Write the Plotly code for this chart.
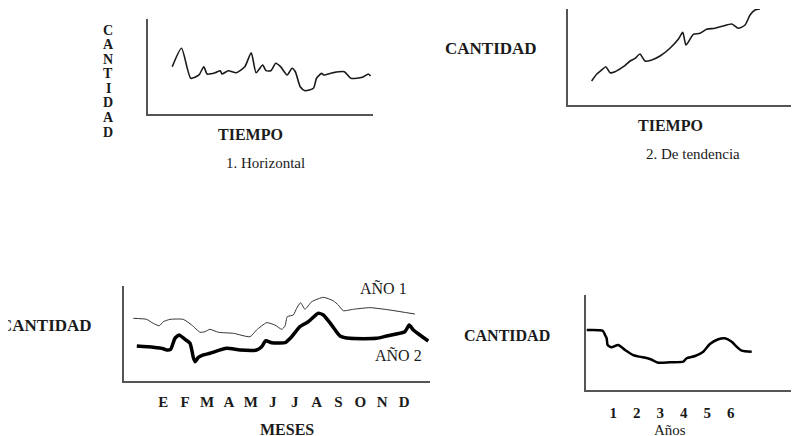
import plotly.graph_objects as go

W, H = 799, 436
OFF = 8  # the page's body margin shifts the figure by 8px right and down

# ---------- Data ----------
# 1. Horizontal
h_tiempo = [11.0, 15.2, 19.4, 23.1, 25.3, 26.8, 30.5, 32.8, 33.5, 36.4, 40.1, 43.9, 46.8, 49.0,
            52.0, 53.5, 55.7, 57.9, 60.1, 63.1, 65.3, 66.8, 69.0, 71.2, 75.0, 76.4, 78.7, 79.7,
            83.9, 89.0, 92.0, 97.2, 99.9, 100.9]
h_cantidad = [49.8, 69.2, 37.6, 41.1, 49.8, 42.1, 43.5, 45.6, 42.1, 45.6, 43.5, 49.8, 64.5, 43.5,
              51.6, 45.6, 45.6, 53.4, 49.8, 41.1, 48.1, 44.5, 28.7, 24.5, 27.1, 37.6, 42.8, 41.1,
              43.5, 44.5, 37.6, 38.6, 42.1, 40.0]

# 2. De tendencia
t_tiempo = [10.5, 12.8, 15.0, 16.8, 18.7, 20.9, 24.6, 27.6, 29.8, 32.0, 34.2, 37.2, 40.9, 45.3,
            49.0, 51.0, 52.4, 54.2, 55.7, 58.7, 61.6, 65.3, 69.0, 72.8, 75.7, 78.7, 80.9, 83.1, 85.3]
t_cantidad = [25.0, 32.3, 36.5, 39.9, 33.6, 34.7, 39.9, 45.8, 48.6, 53.1, 45.8, 46.9, 51.0, 59.1,
              68.4, 75.7, 62.5, 68.4, 73.6, 74.7, 78.9, 79.9, 82.3, 84.4, 79.9, 83.3, 93.8, 99.0, 100.0]

# 3. Estacional (months)
meses_labels = ["E", "F", "M", "A", "M", "J", "J", "A", "S", "O", "N", "D"]
meses_pos = list(range(1, 13))
a1_mes = [-0.37, 0.24, 0.54, 0.82, 1.00, 1.31, 1.91, 2.30, 2.68, 2.90, 3.13, 3.51, 4.20, 4.96,
          5.26, 5.72, 6.10, 6.41, 6.56, 6.66, 6.94, 7.09, 7.27, 7.47, 7.78, 8.31, 8.76, 8.99,
          9.22, 9.68, 10.44, 11.35, 12.49]
a1_cantidad = [66.0, 64.9, 60.7, 58.2, 62.4, 64.9, 64.9, 58.9, 51.3, 51.9, 54.4, 51.3, 50.2, 46.6,
               53.7, 61.4, 58.9, 54.4, 57.9, 67.7, 69.5, 76.5, 82.4, 75.5, 83.5, 88.1, 84.5, 80.0,
               74.0, 75.5, 77.2, 74.7, 70.5]
a2_mes = [-0.21, 0.54, 1.00, 1.16, 1.34, 1.53, 1.72, 1.99, 2.22, 2.37, 2.45, 2.60, 2.83, 3.13,
          3.89, 4.50, 5.26, 5.49, 5.68, 5.95, 6.56, 6.86, 7.24, 7.62, 8.08, 8.31, 8.69, 9.07,
          9.53, 10.74, 11.20, 12.03, 12.23, 12.42, 12.72, 13.10]
a2_cantidad = [36.8, 35.5, 34.0, 32.6, 33.4, 44.9, 48.4, 43.9, 39.7, 24.9, 20.3, 24.9, 27.4, 29.2,
               34.4, 32.6, 32.6, 36.1, 42.4, 40.3, 40.3, 46.6, 57.2, 62.4, 71.3, 69.5, 58.9, 47.4,
               44.9, 44.9, 47.4, 51.9, 58.9, 53.7, 48.4, 42.1]

# 4. Cíclico (years)
anios_labels = ["1", "2", "3", "4", "5", "6"]
anios_pos = [1, 2, 3, 4, 5, 6]
c_anio = [-0.13, 0.55, 0.65, 0.72, 0.76, 0.93, 1.21, 1.50, 1.85, 2.56, 2.91, 3.41, 3.98, 4.12,
          4.48, 4.83, 5.11, 5.47, 5.75, 6.04, 6.25, 6.46, 6.89]
c_cantidad = [63.2, 62.4, 57.9, 54.4, 47.4, 44.9, 47.4, 42.1, 36.8, 32.6, 28.7, 29.2, 29.8, 33.4,
              35.8, 40.3, 48.4, 53.4, 54.4, 50.8, 45.6, 41.4, 40.3]

# ---------- Layout helpers ----------
FONT = "Liberation Serif, Times New Roman, serif"
INK = "#1a1a1a"
AXIS = "#555555"
TXT = "#1a1a1a"


def px_x(p):
    return (p - OFF) / W


def px_y(p):
    return 1 - (p - OFF) / H


fig = go.Figure()

fig.add_trace(go.Scatter(x=h_tiempo, y=h_cantidad, mode="lines", xaxis="x", yaxis="y",
                         line=dict(color=INK, width=1.6, shape="spline", smoothing=0.6),
                         showlegend=False, hoverinfo="skip"))
fig.add_trace(go.Scatter(x=t_tiempo, y=t_cantidad, mode="lines", xaxis="x2", yaxis="y2",
                         line=dict(color=INK, width=1.6, shape="spline", smoothing=0.6),
                         showlegend=False, hoverinfo="skip"))
fig.add_trace(go.Scatter(x=a1_mes, y=a1_cantidad, mode="lines", xaxis="x3", yaxis="y3",
                         line=dict(color="#333333", width=1, shape="spline", smoothing=0.5),
                         showlegend=False, hoverinfo="skip", name="AÑO 1"))
fig.add_trace(go.Scatter(x=a2_mes, y=a2_cantidad, mode="lines", xaxis="x3", yaxis="y3",
                         line=dict(color="#000000", width=3.5, shape="spline", smoothing=0.5),
                         showlegend=False, hoverinfo="skip", name="AÑO 2"))
fig.add_trace(go.Scatter(x=c_anio, y=c_cantidad, mode="lines", xaxis="x4", yaxis="y4",
                         line=dict(color="#000000", width=2.5, shape="spline", smoothing=0.6),
                         showlegend=False, hoverinfo="skip"))


def xaxis(dom, rng, **kw):
    d = dict(domain=[px_x(dom[0]), min(1, px_x(dom[1]))], range=rng, showline=True,
             linecolor=AXIS, linewidth=1.5, showgrid=False, zeroline=False,
             showticklabels=False, ticks="", fixedrange=True)
    d.update(kw)
    return d


def yaxis(dom, rng, anchor):
    return dict(domain=[px_y(dom[1]), px_y(dom[0])], range=rng, showline=True, linecolor=AXIS,
                linewidth=1.5, showgrid=False, zeroline=False, showticklabels=False, ticks="",
                anchor=anchor, fixedrange=True)


tickfont = dict(family=FONT, size=15, color=TXT, weight="bold")

fig.update_layout(
    width=W, height=H,
    margin=dict(l=0, r=0, t=0, b=0),
    paper_bgcolor="white", plot_bgcolor="white",
    xaxis=xaxis((148, 373), [0, 102], anchor="y"),
    yaxis=yaxis((19, 114), [0, 100], "x"),
    xaxis2=xaxis((568, 793), [0, 100], anchor="y2"),
    yaxis2=yaxis((9, 105), [0, 100], "x2"),
    xaxis3=xaxis((124, 430), [-0.795, 13.18], anchor="y3", showticklabels=True,
                 tickmode="array", tickvals=meses_pos, ticktext=meses_labels,
                 tickfont=tickfont, ticklabelstandoff=6),
    yaxis3=yaxis((286, 381), [0, 100], "x3"),
    xaxis4=xaxis((586, 798), [-0.16, 8.86], anchor="y4", showticklabels=True,
                 tickmode="array", tickvals=anios_pos, ticktext=anios_labels,
                 tickfont=tickfont, ticklabelstandoff=8),
    yaxis4=yaxis((295, 390), [0, 100], "x4"),
)


def label(text, x, y, size=16, xanchor="center", bold=True):
    fig.add_annotation(text=text, x=px_x(x), y=px_y(y), xref="paper", yref="paper",
                       showarrow=False, xanchor=xanchor, yanchor="middle",
                       font=dict(family=FONT, size=size, color=TXT,
                                 weight="bold" if bold else "normal"))


# Panel 1: vertical stacked letters
for i, ch in enumerate("CANTIDAD"):
    label(ch, 108, 30 + i * 14.6, size=14)
label("TIEMPO", 250, 135)
label("1. Horizontal", 265, 163, size=15, bold=False)
# Panel 2
label("CANTIDAD", 491, 48, size=17)
label("TIEMPO", 670, 125)
label("2. De tendencia", 693, 154, size=15, bold=False)
# Panel 3
label("CANTIDAD", 94, 325, xanchor="right", size=17)
label("AÑO 1", 383, 288, bold=False)
label("AÑO 2", 398, 355, bold=False)
label("MESES", 287, 429)
# Panel 4
label("CANTIDAD", 507, 335, size=16)
label("Años", 670, 430, size=15, bold=False)

fig.write_html("out.html")
